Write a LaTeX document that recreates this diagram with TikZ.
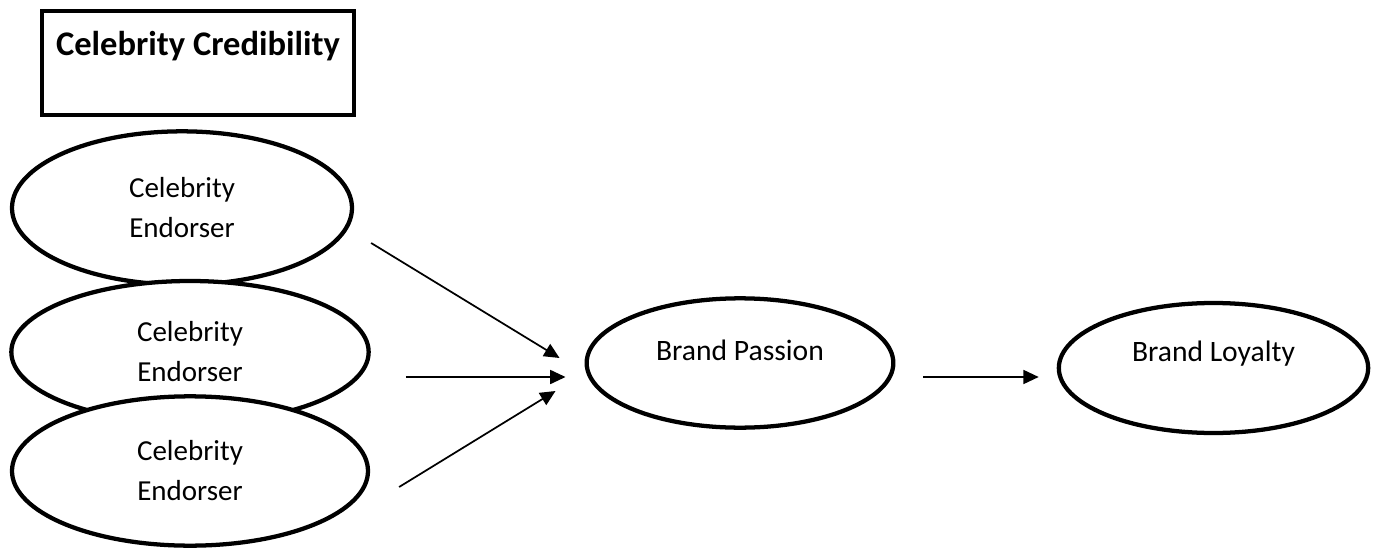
\documentclass[tikz,border=0pt]{standalone}
\usepackage{fontspec}
\setmainfont{Carlito}
\usetikzlibrary{positioning, arrows.meta, shapes.geometric, calc}
\tikzset{
  oval/.style={
    draw,
    ellipse,
    line width=3.2pt,
    fill=white,
    inner sep=0pt,
    align=center,
    font=\fontsize{21.75}{30}\selectfont
  },
  titlebox/.style={
    draw,
    rectangle,
    line width=3pt,
    minimum width=234pt,
    minimum height=78pt
  },
  link/.style={
    line width=1.3pt,
    -{Triangle[length=11.5pt,width=10.5pt]}
  }
}

\begin{document}
\begin{tikzpicture}[x=0.75pt, y=-0.75pt]
  \useasboundingbox (0,0) rectangle (1375,553);

  \node[titlebox, label={[yshift=12.75pt, font=\fontsize{25.9}{30}\selectfont\bfseries]center:Celebrity Credibility}] (cred) at (198,63) {};

  \node[oval, minimum width=255pt, minimum height=115pt] (endorse1) at (182,208) {Celebrity\\Endorser};
  \node[oval, minimum width=268pt, minimum height=106.5pt] (endorse2) at (190,352) {Celebrity\\Endorser};
  \node[oval, minimum width=267pt, minimum height=112pt] (endorse3) at (190,471) {Celebrity\\Endorser};

  \node[oval, minimum width=230pt, minimum height=97pt, label={[yshift=9.75pt, font=\fontsize{22.2}{30}\selectfont]center:Brand Passion}] (passion) at (740,363) {};
  \node[oval, minimum width=232pt, minimum height=97.5pt, label={[yshift=10.5pt, font=\fontsize{22.2}{30}\selectfont]center:Brand Loyalty}] (loyalty) at (1213.5,368) {};

  % free ends of the arrows
  \coordinate (from1) at ($(endorse1.east)+(17,35)$);
  \coordinate (from2) at ($(endorse2.east)+(35,25)$);
  \coordinate (from3) at ($(endorse3.east)+(29,16)$);
  \coordinate (to1) at ($(passion.west)+(-25,-5)$);
  \coordinate (to2) at ($(passion.west)+(-19,14)$);
  \coordinate (to3) at ($(passion.west)+(-29,28)$);
  \coordinate (from4) at ($(passion.east)+(28,14)$);
  \coordinate (to4) at ($(loyalty.west)+(-18,9)$);

  \draw[link] (from1) -- (to1);
  \draw[link] (from2) -- (to2);
  \draw[link] (from3) -- (to3);
  \draw[link] (from4) -- (to4);
\end{tikzpicture}
\end{document}
